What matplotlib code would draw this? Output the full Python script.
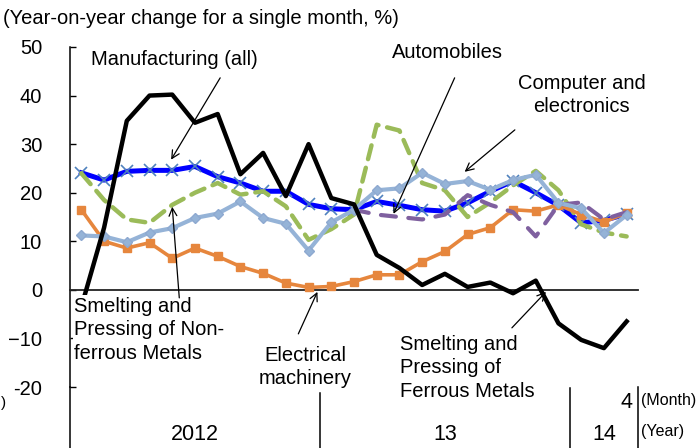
import numpy as np
import matplotlib.pyplot as plt
from matplotlib.transforms import blended_transform_factory

plt.rcParams['font.family'] = ['Liberation Sans', 'DejaVu Sans']

# monthly data, Feb 2012 .. Apr 2014 (Jan-Feb combined each year)
months = [str(m) for m in range(2, 13)] * 2 + ['2', '3', '4']
years = ['2012', '13', '14']
year_spans = [(0, 10), (11, 21), (22, 24)]

manufacturing = [24.1, 22.6, 24.4, 24.6, 24.6, 25.4, 23.3, 22.0, 20.3, 20.3, 17.6, 16.7,
                 16.5, 18.2, 17.4, 16.5, 16.2, 17.9, 20.3, 22.4, 20.0, 17.4, 13.8, 14.3, 15.6]
computer = [11.2, 11.0, 9.8, 11.8, 12.7, 14.8, 15.7, 18.2, 14.8, 13.6, 8.1, 13.9,
            16.5, 20.5, 20.9, 24.1, 21.8, 22.4, 20.6, 22.6, 23.7, 17.9, 16.8, 11.7, 15.4]
electrical = [16.5, 10.0, 8.6, 9.7, 6.5, 8.6, 6.9, 4.8, 3.4, 1.4, 0.5, 0.7,
              1.7, 3.1, 3.1, 5.8, 7.9, 11.4, 12.8, 16.5, 16.2, 17.5, 15.5, 14.0, 15.8]
ferrous = [-3.5, 12.8, 34.8, 40.0, 40.2, 34.4, 36.2, 23.8, 28.2, 19.3, 30.0, 18.9,
           17.6, 7.2, 4.5, 1.0, 3.3, 0.6, 1.5, -0.7, 1.9, -6.9, -10.3, -12.0, -6.5]
nonferrous = [24.0, 18.5, 14.5, 13.8, 17.5, 20.0, 22.0, 19.6, 20.3, 17.2, 10.3, 12.5,
              15.5, 34.0, 32.8, 22.0, 20.5, 15.0, 18.0, 21.5, 24.5, 20.5, 13.5, 11.8, 11.0]
automobiles = [np.nan] * 12 + [16.5, 15.5, 15.0, 14.5, 15.5, 19.5, 17.5, 16.0, 11.0,
                               17.5, 18.0, 14.5, 16.0]

yticks = [50, 40, 30, 20, 10, 0, -10, -20]
ytick_labels = ['50', '40', '30', '20', '10', '0', '\u221210', '-20']

x = np.arange(len(months))

fig = plt.figure(figsize=(7, 4.48), dpi=100)
ax = fig.add_axes([70 / 700, 61 / 448, 568 / 700, 340 / 448])

ax.plot(x, manufacturing, color='#0000FF', lw=3.6, marker='x', ms=9, mew=1.2,
        mec='#4F81BD', zorder=2)
ax.plot(x, nonferrous, color='#9BBB59', lw=3.2, dashes=(3.2, 2), dash_capstyle='round', zorder=3)
ax.plot(x, electrical, color='#E6863D', lw=2.6, marker='s', ms=6, zorder=4)
ax.plot(x, automobiles, color='#7F609F', lw=3, dashes=(3.6, 3), dash_capstyle='round', zorder=5)
ax.plot(x, computer, color='#95B3D7', lw=3, marker='D', ms=5.5, mec='#8EA9D0', zorder=6)
ax.plot(x, ferrous, color='black', lw=3.2, zorder=7)

ax.set_xlim(-0.5, 24.5)
ax.set_ylim(-20, 50)
ax.spines[['top', 'right']].set_visible(False)
ax.spines['bottom'].set_position(('data', 0))
ax.spines['bottom'].set_linewidth(1.3)
ax.spines['bottom'].set_color('#222222')
ax.spines['left'].set_linewidth(1.1)
ax.set_xticks([])
ax.set_yticks(yticks)
ax.set_yticklabels(ytick_labels, fontsize=14.5)
ax.tick_params(axis='y', direction='in', length=4, width=1, pad=20)

# category axis below the plot
trans = blended_transform_factory(ax.transData, ax.transAxes)
ax.plot([-0.5, -0.5], [0, -0.18], transform=trans, color='black', lw=1.1, clip_on=False)
for xd, top in [(10.5, -0.018), (21.5, -0.003), (24.5, 0.0)]:
    ax.plot([xd, xd], [top, -0.18], transform=trans, color='black', lw=1.1, clip_on=False)
for label, (a, b) in zip(years, year_spans):
    ax.text((a + b) / 2, -0.141, label, transform=trans, ha='center', va='center',
            fontsize=15.5)
ax.text(x[-1], -0.047, months[-1], transform=trans, ha='center', va='center',
        fontsize=15.5)
ax.text(24.63, -0.04, '(Month)', transform=trans, ha='left', va='center', fontsize=11.5)
ax.text(24.63, -0.132, '(Year)', transform=trans, ha='left', va='center', fontsize=11.5)

fig.text(3 / 700, 1 - 18 / 448, '(Year-on-year change for a single month, %)',
         ha='left', va='center', fontsize=14.5)
fig.text(1 / 700, 1 - 403 / 448, ')', ha='left', va='center', fontsize=11)

# labels with arrows
arrow = dict(arrowstyle='->', lw=0.9, color='black', shrinkA=0, shrinkB=0,
             mutation_scale=14)
ax.text(4.09, 47.4, 'Manufacturing (all)', ha='center', va='center', fontsize=14.5)
ax.annotate('', xy=(3.95, 26.8), xytext=(6.11, 43.65), arrowprops=arrow, zorder=11)

ax.text(16.12, 48.8, 'Automobiles', ha='center', va='center', fontsize=14.5)
ax.annotate('', xy=(13.74, 15.65), xytext=(16.43, 43.65), arrowprops=arrow, zorder=11)

ax.text(22.03, 40.1, 'Computer and\nelectronics', ha='center', va='center',
        fontsize=14.5, linespacing=1.3)
ax.annotate('', xy=(16.87, 24.3), xytext=(19.08, 32.94), arrowprops=arrow, zorder=11)

ax.text(-0.32, -8.24, 'Smelting and\nPressing of Non-\nferrous Metals', ha='left',
        va='center', fontsize=14.5, linespacing=1.3, zorder=10,
        bbox=dict(facecolor='white', edgecolor='none', pad=1))
ax.annotate('', xy=(4.0, 17.1), xytext=(4.31, -1.65), arrowprops=arrow, zorder=11)

ax.text(9.87, -15.85, 'Electrical\nmachinery', ha='center', va='center',
        fontsize=14.5, linespacing=1.3)
ax.annotate('', xy=(10.39, -0.41), xytext=(9.55, -9.06), arrowprops=arrow, zorder=11)

ax.text(14.01, -16.06, 'Smelting and\nPressing of\nFerrous Metals', ha='left',
        va='center', fontsize=14.5, linespacing=1.3)
ax.annotate('', xy=(20.45, -0.41), xytext=(18.95, -7.82), arrowprops=arrow, zorder=11)

fig.savefig('out.png', dpi=100)
